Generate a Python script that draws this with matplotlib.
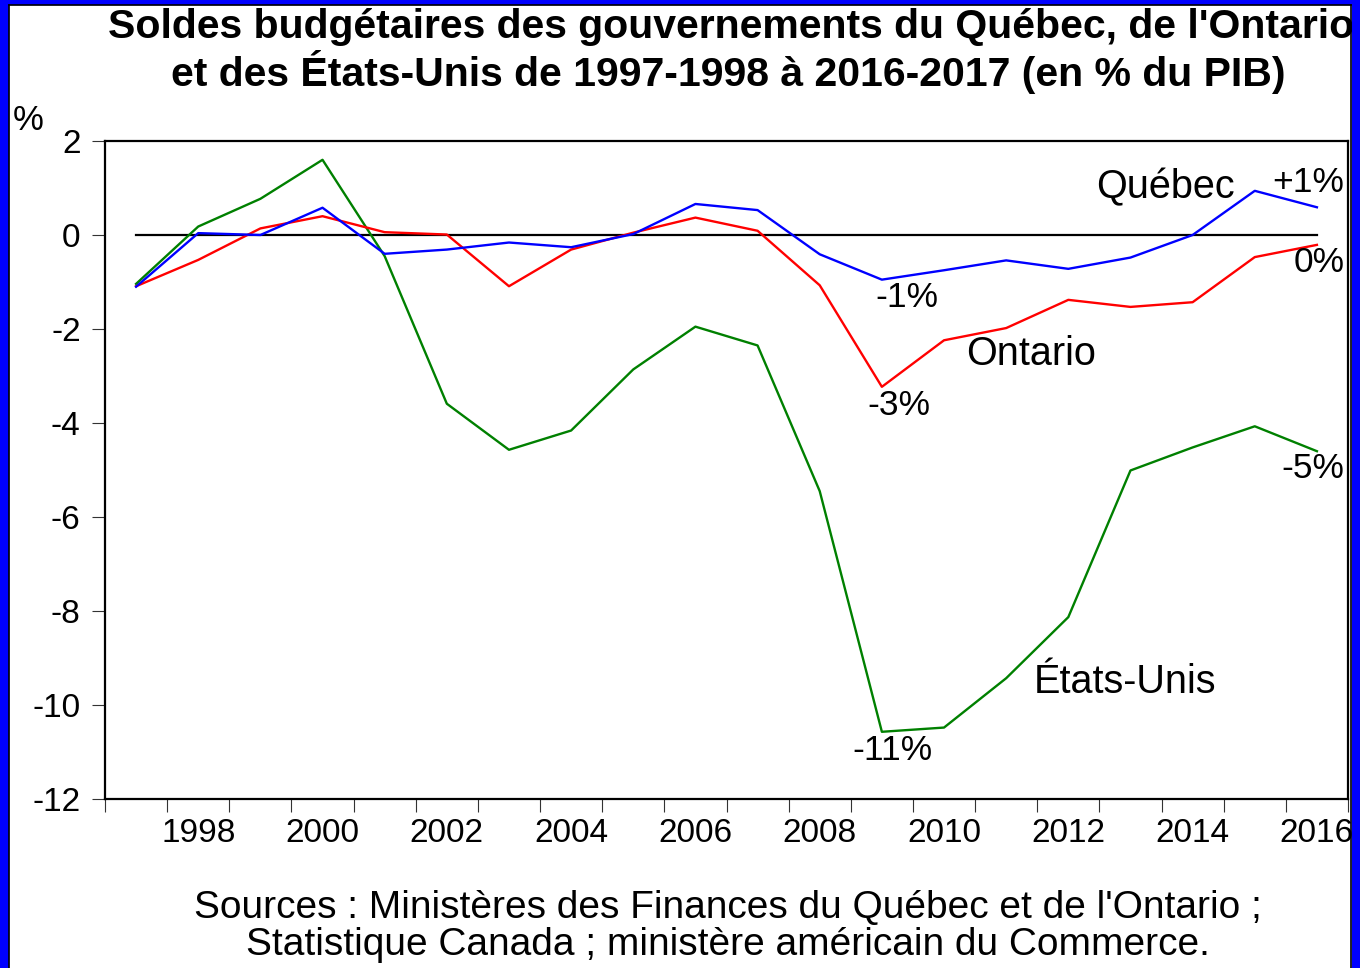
import numpy as np
import matplotlib
matplotlib.use('Agg')
import matplotlib.pyplot as plt
from matplotlib.patches import Rectangle
from matplotlib.lines import Line2D
from matplotlib.ticker import FixedLocator, NullFormatter

plt.rcParams['font.family'] = ['Liberation Sans', 'DejaVu Sans']

# 数据：年份与各政府预算余额（占GDP %）
years = list(range(1997, 2017))
quebec = [-1.10, 0.04, 0.00, 0.58, -0.40, -0.31, -0.16, -0.26, 0.02, 0.66,
          0.53, -0.41, -0.95, -0.75, -0.54, -0.72, -0.48, 0.00, 0.94, 0.59]
ontario = [-1.09, -0.53, 0.14, 0.40, 0.06, 0.01, -1.09, -0.31, 0.05, 0.37,
           0.09, -1.07, -3.23, -2.24, -1.98, -1.38, -1.53, -1.43, -0.47, -0.21]
usa = [-1.04, 0.18, 0.77, 1.60, -0.45, -3.59, -4.57, -4.16, -2.86, -1.95,
       -2.35, -5.45, -10.57, -10.48, -9.43, -8.13, -5.01, -4.52, -4.07, -4.60]

title_lines = ["Soldes budgétaires des gouvernements du Québec, de l'Ontario",
               "et des États-Unis de 1997-1998 à 2016-2017 (en % du PIB)"]
source_lines = ["Sources : Ministères des Finances du Québec et de l'Ontario ;",
                "Statistique Canada ; ministère américain du Commerce."]
y_ticks = [2, 0, -2, -4, -6, -8, -10, -12]
x_labels = list(range(1998, 2017, 2))

W, H = 1360, 968
fig = plt.figure(figsize=(W / 100, H / 100), dpi=100)
fig.patch.set_facecolor('white')

# 坐标轴位置（像素换算）
ax = fig.add_axes([105 / W, 1 - 799 / H, (1348 - 105) / W, (799 - 141) / H])

ax.plot(years, usa, color='#008000', lw=1.7, zorder=3)
ax.plot(years, ontario, color='#FF0000', lw=1.7, zorder=4)
ax.plot(years, quebec, color='#0000FF', lw=1.7, zorder=5)
ax.plot([years[0], years[-1]], [0, 0], color='black', lw=1.6, zorder=2)

ax.set_xlim(1996.5, 2016.5)
ax.set_ylim(-12, 2)

# X轴：刻度线在年份边界，标签在偶数年中心
ax.xaxis.set_major_locator(FixedLocator(np.arange(1996.5, 2017, 1.0)))
ax.xaxis.set_major_formatter(NullFormatter())
ax.xaxis.set_minor_locator(FixedLocator(x_labels))
ax.set_xticklabels([str(y) for y in x_labels], minor=True)
ax.tick_params(axis='x', which='major', direction='out', length=9, width=0.8, color='#333333')
ax.tick_params(axis='x', which='minor', length=0, pad=14, labelsize=24)

ax.set_yticks(y_ticks)
ax.set_yticklabels([str(v) for v in y_ticks])
ax.tick_params(axis='y', direction='out', length=9.5, width=0.8, color='#333333', pad=8, labelsize=24)

for s in ax.spines.values():
    s.set_linewidth(1.6)
    s.set_color('black')

# 标注
ann = [
    ("Québec", 2013.57, 1.02, 28.5),
    ("+1%", 2015.86, 1.11, 25.5),
    ("0%", 2016.03, -0.58, 25.5),
    ("-1%", 2009.41, -1.32, 25.5),
    ("Ontario", 2011.4, -2.54, 28.5),
    ("-3%", 2009.27, -3.62, 25.5),
    ("États-Unis", 2012.91, -9.52, 28.5),
    ("-11%", 2009.17, -10.97, 25.5),
    ("-5%", 2015.94, -4.96, 25.5),
]
for txt, x, y, fs in ann:
    ax.text(x, y, txt, ha='center', va='center', fontsize=fs, zorder=6)

# 标题与来源
fig.text(731 / W, 1 - 27 / H, title_lines[0], ha='center', va='center',
         fontsize=29.5, fontweight='bold')
fig.text(728 / W, 1 - 72 / H, title_lines[1], ha='center', va='center',
         fontsize=29.5, fontweight='bold')
fig.text(728 / W, 1 - 908 / H, source_lines[0], ha='center', va='center', fontsize=28)
fig.text(728 / W, 1 - 945 / H, source_lines[1], ha='center', va='center', fontsize=28)
fig.text(28 / W, 1 - 121 / H, '%', ha='center', va='center', fontsize=25)

# 蓝色外框
blue = '#0000FF'
fig.add_artist(Rectangle((0, 0), 8 / W, 1, transform=fig.transFigure, color=blue, zorder=10))
fig.add_artist(Rectangle((0, 1 - 4 / H), 1, 4 / H, transform=fig.transFigure, color=blue, zorder=10))
fig.add_artist(Rectangle((1 - 8 / W, 0), 8 / W, 1, transform=fig.transFigure, color=blue, zorder=10))
fig.add_artist(Line2D([9 / W, 9 / W], [0, 1 - 5 / H], transform=fig.transFigure, color='black', lw=1.2, zorder=10))
fig.add_artist(Line2D([9 / W, 1 - 9 / W], [1 - 5 / H, 1 - 5 / H], transform=fig.transFigure, color='black', lw=1.2, zorder=10))
fig.add_artist(Line2D([1 - 9 / W, 1 - 9 / W], [0, 1 - 5 / H], transform=fig.transFigure, color='black', lw=1.2, zorder=10))

fig.savefig('out.png', dpi=100)
